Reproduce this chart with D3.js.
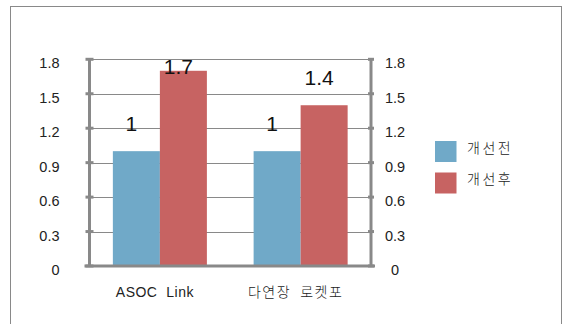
<!DOCTYPE html>
<html>
<head>
<meta charset="utf-8">
<script src="https://cdn.jsdelivr.net/npm/d3@7"></script>
<style>
  body { margin: 0; background: #fff; }
  text { font-family: "Liberation Sans", Arial, "Noto Sans CJK KR", sans-serif; fill: #222; }
  .kr { font-family: "Noto Sans CJK KR", sans-serif; font-weight: 300; }
</style>
</head>
<body>
<script>
const categories = ["ASOC  Link", "다연장  로켓포"]
const seriesNames = ["개선전", "개선후"]
const before = [1, 1]
const after = [1.7, 1.4]
const tickValues = [0, 0.3, 0.6, 0.9, 1.2, 1.5, 1.8]

const colors = ["#70a9c8", "#c76362"]
const grey = "#898989"

const w = 564, h = 324
const svg = d3.select("body").append("svg")
    .attr("width", w)
    .attr("height", h)

// outer frame (bottom runs off the picture)
svg.append("rect")
    .attr("x", 10.5).attr("y", 6.5)
    .attr("width", 551).attr("height", 340)
    .attr("fill", "none")
    .attr("stroke", grey)
    .attr("stroke-width", 1)

const plotL = 89.5, plotR = 371, plotT = 59.3, plotB = 266

const x0 = d3.scaleBand().domain(categories).range([plotL, plotR])
const bw = x0.bandwidth()
const x1 = d3.scaleBand().domain(seriesNames).range([bw * 0.166, bw * 0.834])
const y = d3.scaleLinear().domain([0, 1.8]).range([plotB, plotT])

// gridlines
svg.selectAll(".grid")
    .data(tickValues.filter(d => d > 0))
    .enter().append("line")
    .attr("x1", plotL).attr("x2", plotR)
    .attr("y1", d => Math.round(y(d)) + 0.5)
    .attr("y2", d => Math.round(y(d)) + 0.5)
    .attr("stroke", grey)
    .attr("stroke-width", 1)

// bars
const rows = categories.map((c, i) => ({ cat: c, vals: [before[i], after[i]] }))
const groups = svg.selectAll(".grp")
    .data(rows)
    .enter().append("g")
    .attr("transform", d => `translate(${x0(d.cat)},0)`)

groups.selectAll("rect")
    .data(d => d.vals.map((v, j) => ({ name: seriesNames[j], v: v, j: j })))
    .enter().append("rect")
    .attr("x", d => x1(d.name))
    .attr("y", d => y(d.v))
    .attr("width", x1.bandwidth())
    .attr("height", d => plotB - y(d.v))
    .attr("fill", d => colors[d.j])

// value labels (Excel pushes the top one down inside the plot)
groups.selectAll(".val")
    .data(d => d.vals.map((v, j) => ({ name: seriesNames[j], v: v })))
    .enter().append("text")
    .attr("x", d => x1(d.name) + x1.bandwidth() / 2 - 5)
    .attr("y", d => Math.max(y(d.v) - 20, plotT + 14.5))
    .attr("text-anchor", "middle")
    .style("font-size", "21px")
    .style("fill", "#111")
    .text(d => d.v)

// left and right axes
const axes = [
    { x: plotL, t1: -4, t2: 4 },
    { x: plotR, t1: -3, t2: 3 }
]
axes.forEach(a => {
    svg.append("line")
        .attr("x1", a.x).attr("x2", a.x)
        .attr("y1", plotT - 1).attr("y2", plotB)
        .attr("stroke", grey).attr("stroke-width", 3)
    svg.selectAll(null)
        .data(tickValues)
        .enter().append("line")
        .attr("x1", a.x + a.t1).attr("x2", a.x + a.t2)
        .attr("y1", d => y(d)).attr("y2", d => y(d))
        .attr("stroke", grey).attr("stroke-width", 3)
})

// baseline
svg.append("line")
    .attr("x1", plotL - 5).attr("x2", plotR + 4)
    .attr("y1", plotB).attr("y2", plotB)
    .attr("stroke", grey).attr("stroke-width", 3)

// tick labels
svg.selectAll(".tl")
    .data(tickValues)
    .enter().append("text")
    .attr("x", 59.5)
    .attr("y", d => y(d) + 9)
    .attr("text-anchor", "end")
    .style("font-size", "14.5px")
    .text(d => d === 0 ? "0" : d3.format(".1f")(d))

svg.selectAll(".tr")
    .data(tickValues)
    .enter().append("text")
    .attr("x", 395)
    .attr("y", d => y(d) + 9)
    .attr("text-anchor", "middle")
    .style("font-size", "14.5px")
    .text(d => d === 0 ? "0" : d3.format(".1f")(d))

// category labels
svg.selectAll(".cat")
    .data(categories)
    .enter().append("text")
    .attr("class", (d, i) => i === 1 ? "kr" : null)
    .attr("x", d => x0(d) + bw / 2 - 5)
    .attr("y", 297)
    .attr("text-anchor", "middle")
    .style("font-size", "14px")
    .style("letter-spacing", (d, i) => i === 1 ? "1.5px" : "0.5px")
    .style("white-space", "pre")
    .text(d => d)

// legend
const legend = svg.append("g").attr("transform", "translate(435,141)")
legend.selectAll("rect")
    .data(seriesNames)
    .enter().append("rect")
    .attr("x", 0)
    .attr("y", (d, i) => i * 31.5)
    .attr("width", 21.5).attr("height", 21)
    .attr("fill", (d, i) => colors[i])
legend.selectAll("text")
    .data(seriesNames)
    .enter().append("text")
    .attr("class", "kr")
    .attr("x", 32)
    .attr("y", (d, i) => i * 31.5 + 11.5)
    .style("font-size", "14px")
    .style("letter-spacing", "2.5px")
    .text(d => d)
</script>
</body>
</html>
